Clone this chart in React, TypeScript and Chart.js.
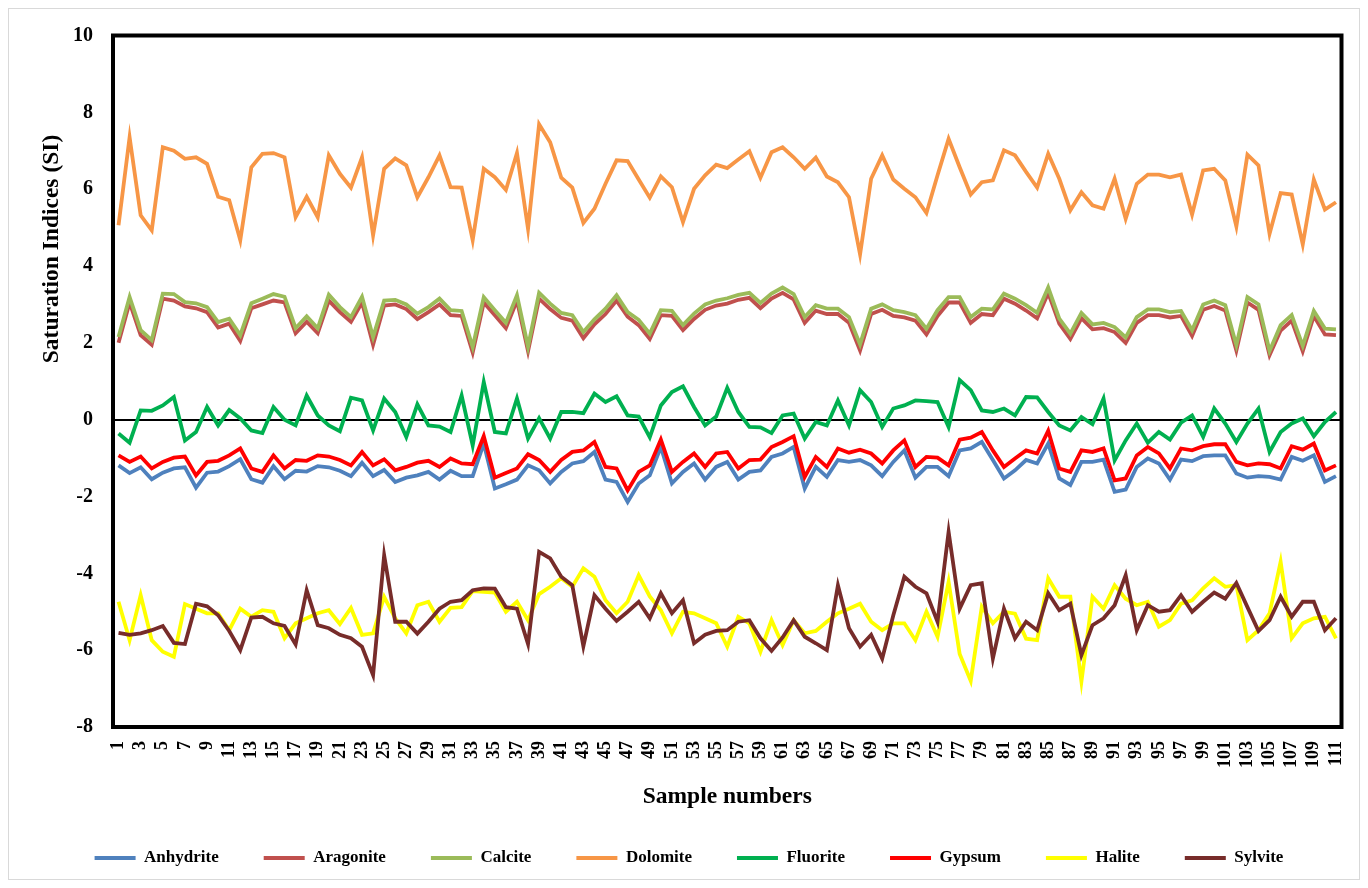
import React, { useEffect, useRef } from "react";
import { Chart, registerables } from "chart.js";

Chart.register(...registerables);

const sampleNumbers: string[] = Array.from({ length: 111 }, (_, i) => String(i + 1));

const anhydrite = [
  -1.19, -1.39, -1.24, -1.55, -1.38, -1.27, -1.24, -1.77, -1.38, -1.35,
  -1.21, -1.03, -1.55, -1.64, -1.21, -1.55, -1.33, -1.35, -1.21, -1.24,
  -1.33, -1.47, -1.12, -1.47, -1.31, -1.62, -1.51, -1.45, -1.36, -1.56,
  -1.33, -1.47, -1.47, -0.62, -1.79, -1.68, -1.56, -1.19, -1.32, -1.66,
  -1.36, -1.14, -1.08, -0.84, -1.56, -1.62, -2.14, -1.66, -1.45, -0.71,
  -1.66, -1.36, -1.14, -1.56, -1.23, -1.1, -1.56, -1.36, -1.32, -0.97,
  -0.88, -0.71, -1.79, -1.23, -1.49, -1.05, -1.1, -1.05, -1.19, -1.47,
  -1.1, -0.8, -1.51, -1.23, -1.23, -1.47, -0.8, -0.75, -0.58, -1.05,
  -1.53, -1.32, -1.05, -1.14, -0.62, -1.53, -1.7, -1.1, -1.1, -1.04,
  -1.88, -1.82, -1.23, -1.01, -1.14, -1.56, -1.04, -1.08, -0.95, -0.93,
  -0.93, -1.4, -1.51, -1.47, -1.49, -1.56, -0.97, -1.07, -0.93, -1.62,
  -1.47,
];

const aragonite = [
  2.0, 3.05, 2.2, 1.95, 3.15, 3.1, 2.95, 2.9, 2.8, 2.4,
  2.5, 2.05, 2.9, 3.0, 3.1, 3.05, 2.25, 2.55, 2.25, 3.1,
  2.8, 2.55, 3.05, 1.95, 2.97, 3.0, 2.88, 2.62, 2.8, 3.0,
  2.72, 2.7, 1.75, 3.05, 2.72, 2.38, 3.1, 1.78, 3.15, 2.88,
  2.65, 2.58, 2.12, 2.48, 2.75, 3.1, 2.68, 2.46, 2.1, 2.72,
  2.7, 2.33, 2.62, 2.86, 2.97, 3.02, 3.12, 3.17, 2.9, 3.15,
  3.3, 3.13, 2.52, 2.84, 2.75, 2.75, 2.52, 1.8, 2.75, 2.86,
  2.7, 2.66, 2.58, 2.22, 2.7, 3.05, 3.05, 2.52, 2.75, 2.72,
  3.15, 3.02, 2.84, 2.64, 3.3, 2.5, 2.1, 2.64, 2.35, 2.38,
  2.28, 2.0, 2.52, 2.72, 2.72, 2.66, 2.7, 2.18, 2.86, 2.96,
  2.84, 1.8, 3.05, 2.86, 1.68, 2.32, 2.58, 1.78, 2.7, 2.22,
  2.2,
];

const calcite = [
  2.15, 3.19, 2.33, 2.07, 3.28, 3.27, 3.06, 3.03, 2.93, 2.54,
  2.63, 2.2, 3.03, 3.15, 3.27, 3.2, 2.38, 2.69, 2.38, 3.25,
  2.93, 2.67, 3.2, 2.15, 3.1, 3.12, 3.0, 2.76, 2.93, 3.15,
  2.85, 2.83, 1.89, 3.19, 2.85, 2.52, 3.24, 1.9, 3.3, 3.02,
  2.78, 2.72, 2.28, 2.61, 2.89, 3.24, 2.8, 2.6, 2.24, 2.85,
  2.83, 2.46, 2.76, 3.0, 3.1, 3.16, 3.25, 3.3, 3.04, 3.28,
  3.44, 3.27, 2.67, 2.98, 2.89, 2.89, 2.67, 1.96, 2.89, 3.0,
  2.85, 2.8, 2.72, 2.37, 2.85, 3.19, 3.19, 2.67, 2.89, 2.87,
  3.28, 3.15, 2.98, 2.78, 3.44, 2.63, 2.24, 2.78, 2.48, 2.52,
  2.41, 2.14, 2.67, 2.87, 2.87, 2.8, 2.83, 2.33, 3.0, 3.1,
  2.98, 1.94, 3.19, 3.0, 1.79, 2.46, 2.72, 1.92, 2.83, 2.37,
  2.35,
];

const dolomite = [
  5.06, 7.35, 5.32, 4.93, 7.09, 7.0, 6.79, 6.83, 6.66, 5.8,
  5.71, 4.67, 6.57, 6.92, 6.94, 6.83, 5.27, 5.8, 5.27, 6.88,
  6.4, 6.04, 6.83, 4.8, 6.53, 6.8, 6.62, 5.79, 6.31, 6.88,
  6.05, 6.04, 4.67, 6.53, 6.31, 5.98, 6.94, 4.97, 7.69, 7.22,
  6.3, 6.04, 5.12, 5.49, 6.14, 6.75, 6.73, 6.25, 5.78, 6.33,
  6.05, 5.14, 6.01, 6.36, 6.64, 6.55, 6.77, 6.99, 6.3, 6.96,
  7.09, 6.83, 6.53, 6.82, 6.33, 6.18, 5.79, 4.3, 6.27, 6.88,
  6.25, 6.01, 5.79, 5.38, 6.36, 7.31, 6.57, 5.86, 6.18, 6.23,
  7.01, 6.88, 6.45, 6.04, 6.92, 6.27, 5.45, 5.92, 5.58, 5.49,
  6.27, 5.23, 6.14, 6.38, 6.38, 6.31, 6.38, 5.34, 6.49, 6.53,
  6.23, 5.03, 6.9, 6.62, 4.84, 5.9, 5.86, 4.56, 6.25, 5.47,
  5.66,
];

const fluorite = [
  -0.36, -0.6, 0.24, 0.23, 0.37, 0.59, -0.54, -0.32, 0.33, -0.15,
  0.25, 0.03, -0.28, -0.35, 0.33, 0.0, -0.15, 0.63, 0.11, -0.15,
  -0.3, 0.57, 0.5, -0.28, 0.55, 0.2, -0.45, 0.4, -0.15, -0.18,
  -0.32, 0.63, -0.67, 0.98, -0.32, -0.36, 0.55, -0.49, 0.04, -0.49,
  0.2, 0.2, 0.17, 0.68, 0.46, 0.61, 0.11, 0.08, -0.46, 0.37,
  0.72, 0.87, 0.33, -0.15, 0.08, 0.83, 0.2, -0.19, -0.2, -0.35,
  0.11, 0.16, -0.49, -0.06, -0.15, 0.5, -0.15, 0.77, 0.46, -0.19,
  0.29, 0.37, 0.5, 0.48, 0.46, -0.19, 1.03, 0.77, 0.24, 0.2,
  0.29, 0.11, 0.59, 0.58, 0.2, -0.15, -0.28, 0.07, -0.12, 0.55,
  -1.06, -0.54, -0.1, -0.6, -0.32, -0.52, -0.08, 0.11, -0.45, 0.29,
  -0.1, -0.58, -0.1, 0.29, -0.84, -0.32, -0.1, 0.03, -0.43, -0.06,
  0.2,
];

const gypsum = [
  -0.93, -1.1, -0.96, -1.27, -1.1, -0.99, -0.96, -1.45, -1.1, -1.07,
  -0.93, -0.75, -1.27, -1.36, -0.93, -1.27, -1.05, -1.07, -0.93, -0.96,
  -1.05, -1.19, -0.84, -1.19, -1.03, -1.32, -1.23, -1.12, -1.07, -1.23,
  -1.01, -1.14, -1.16, -0.43, -1.51, -1.39, -1.27, -0.9, -1.05, -1.36,
  -1.05, -0.84, -0.8, -0.58, -1.23, -1.27, -1.84, -1.36, -1.19, -0.52,
  -1.36, -1.1, -0.88, -1.23, -0.88, -0.84, -1.27, -1.05, -1.04, -0.71,
  -0.58, -0.43, -1.49, -0.97, -1.23, -0.75, -0.86, -0.78, -0.88, -1.14,
  -0.8, -0.54, -1.23, -0.97, -0.99, -1.19, -0.52, -0.47, -0.32, -0.8,
  -1.23, -1.01, -0.8, -0.88, -0.29, -1.27, -1.36, -0.8, -0.84, -0.75,
  -1.58, -1.53, -0.93, -0.71, -0.88, -1.27, -0.75, -0.8, -0.69, -0.64,
  -0.64, -1.1, -1.19, -1.14, -1.16, -1.27, -0.69, -0.78, -0.62, -1.32,
  -1.19,
];

const halite = [
  -4.74, -5.74, -4.57, -5.74, -6.04, -6.17, -4.8, -4.92, -5.04, -5.04,
  -5.48, -4.92, -5.13, -4.96, -5.0, -5.69, -5.3, -5.17, -5.04, -4.96,
  -5.32, -4.9, -5.6, -5.56, -4.61, -5.17, -5.56, -4.83, -4.74, -5.26,
  -4.9, -4.88, -4.46, -4.48, -4.5, -5.0, -4.74, -5.22, -4.54, -4.35,
  -4.13, -4.35, -3.87, -4.09, -4.7, -5.04, -4.74, -4.05, -4.6, -4.96,
  -5.56, -5.0, -5.04, -5.17, -5.3, -5.91, -5.13, -5.3, -6.04, -5.22,
  -5.87, -5.22, -5.56, -5.5, -5.26, -5.04, -4.92, -4.79, -5.26, -5.48,
  -5.3, -5.3, -5.74, -5.0, -5.65, -4.22, -6.1, -6.8, -4.87, -5.3,
  -5.0, -5.05, -5.7, -5.74, -4.13, -4.61, -4.61, -6.82, -4.61, -4.92,
  -4.31, -4.66, -4.83, -4.74, -5.39, -5.22, -4.79, -4.7, -4.39, -4.13,
  -4.35, -4.31, -5.74, -5.48, -5.04, -3.7, -5.69, -5.3, -5.17, -5.13,
  -5.69,
];

const sylvite = [
  -5.55, -5.6, -5.56, -5.48, -5.37, -5.81, -5.84, -4.79, -4.86, -5.09,
  -5.5, -6.0, -5.15, -5.13, -5.3, -5.37, -5.85, -4.44, -5.35, -5.43,
  -5.6, -5.69, -5.91, -6.65, -3.53, -5.26, -5.26, -5.57, -5.26, -4.92,
  -4.74, -4.7, -4.44, -4.39, -4.4, -4.88, -4.92, -5.84, -3.44, -3.61,
  -4.09, -4.31, -5.9, -4.57, -4.92, -5.24, -5.0, -4.74, -5.17, -4.52,
  -5.04, -4.7, -5.82, -5.6, -5.5, -5.48, -5.26, -5.22, -5.69, -6.02,
  -5.67, -5.22, -5.65, -5.82, -6.0, -4.31, -5.43, -5.91, -5.6, -6.22,
  -5.1, -4.09, -4.35, -4.52, -5.26, -2.92, -4.92, -4.31, -4.26, -6.22,
  -4.92, -5.69, -5.26, -5.48, -4.52, -4.96, -4.79, -6.13, -5.35, -5.17,
  -4.83, -4.05, -5.48, -4.83, -5.0, -4.96, -4.57, -5.0, -4.74, -4.5,
  -4.66, -4.25, -4.88, -5.5, -5.22, -4.61, -5.13, -4.74, -4.74, -5.48,
  -5.17,
];

const seriesNames = ["Anhydrite", "Aragonite", "Calcite", "Dolomite", "Fluorite", "Gypsum", "Halite", "Sylvite"];
const seriesValues = [anhydrite, aragonite, calcite, dolomite, fluorite, gypsum, halite, sylvite];
const seriesColors = ["#4F81BD", "#C0504D", "#9BBB59", "#F79646", "#00B050", "#FF0000", "#FFFF00", "#772C2A"];

const yTitle = "Saturation Indices (SI)";
const xTitle = "Sample numbers";
const yMin = -8;
const yMax = 10;
const yStep = 2;

const FONT_FAMILY = '"Liberation Serif", "Times New Roman", Times, serif';

const framePlugin = {
  id: "frame",
  afterDraw(chart: any) {
    const { ctx, chartArea } = chart;
    ctx.save();
    ctx.strokeStyle = "#000";
    ctx.lineWidth = 4;
    ctx.strokeRect(chartArea.left, chartArea.top, chartArea.right - chartArea.left, chartArea.bottom - chartArea.top);
    ctx.restore();
  },
};

const yTitlePlugin = {
  id: "yTitleCustom",
  afterDraw(chart: any) {
    const { ctx } = chart;
    ctx.save();
    ctx.translate(42.5, 240);
    ctx.rotate(-Math.PI / 2);
    ctx.font = `bold 23.5px ${FONT_FAMILY}`;
    ctx.fillStyle = "#000";
    ctx.textAlign = "center";
    ctx.textBaseline = "middle";
    ctx.fillText(yTitle, 0, 0);
    ctx.restore();
  },
};

export default function App() {
  const canvasRef = useRef<HTMLCanvasElement | null>(null);

  useEffect(() => {
    if (!canvasRef.current) return;
    const chart = new Chart(canvasRef.current, {
      type: "line",
      data: {
        labels: sampleNumbers,
        datasets: seriesNames.map((name, i) => ({
          label: name,
          data: seriesValues[i],
          borderColor: seriesColors[i],
          backgroundColor: seriesColors[i],
          borderWidth: 3.8,
          pointRadius: 0,
          pointHoverRadius: 0,
          tension: 0,
          fill: false,
          order: seriesNames.length - 1 - i,
        })),
      },
      options: {
        responsive: false,
        animation: false,
        events: [],
        layout: { padding: { top: 26.5, left: 27.5, right: 17.5, bottom: 2.5 } },
        plugins: {
          tooltip: { enabled: false },
          legend: {
            position: "bottom",
            labels: {
              boxWidth: 41,
              boxHeight: 4,
              padding: 45,
              color: "#000",
              font: { family: FONT_FAMILY, size: 17, weight: "bold" },
              sort: (a: any, b: any) => a.datasetIndex - b.datasetIndex,
              generateLabels: (chart: any) =>
                Chart.defaults.plugins.legend.labels.generateLabels(chart).map((l: any) => ({ ...l, lineWidth: 0 })),
            },
          },
        },
        scales: {
          x: {
            type: "category",
            offset: true,
            grid: { display: false, drawTicks: false },
            border: { display: false },
            ticks: {
              autoSkip: false,
              minRotation: 90,
              maxRotation: 90,
              padding: 14,
              color: "#000",
              font: { family: FONT_FAMILY, size: 18, weight: "bold" },
              callback: (_v: any, idx: number) => (idx % 2 === 0 ? sampleNumbers[idx] : ""),
            },
            title: {
              display: true,
              text: xTitle,
              color: "#000",
              font: { family: FONT_FAMILY, size: 23.5, weight: "bold" },
              padding: { top: 0, bottom: -6.6 },
            },
            afterFit: (scale: any) => {
              scale.height = 77.5;
              scale.paddingLeft = 0;
              scale.paddingRight = 0;
            },
          },
          y: {
            min: yMin,
            max: yMax,
            border: { display: false },
            grid: {
              drawTicks: false,
              color: (c: any) => (c.tick && c.tick.value === 0 ? "#000" : "rgba(0,0,0,0)"),
              lineWidth: 2,
            },
            ticks: {
              stepSize: yStep,
              padding: 20,
              color: "#000",
              font: { family: FONT_FAMILY, size: 20, weight: "bold" },
            },
            afterFit: (scale: any) => {
              scale.width = 76.5;
              scale.paddingTop = 0;
              scale.paddingBottom = 0;
            },
          },
        },
      },
      plugins: [framePlugin, yTitlePlugin],
    } as any);
    return () => chart.destroy();
  }, []);

  return (
    <div
      style={{
        width: 1350,
        height: 870,
        border: "1px solid #d9d9d9",
        background: "#fff",
      }}
    >
      <canvas ref={canvasRef} width={1350} height={870} style={{ display: "block" }} />
    </div>
  );
}
